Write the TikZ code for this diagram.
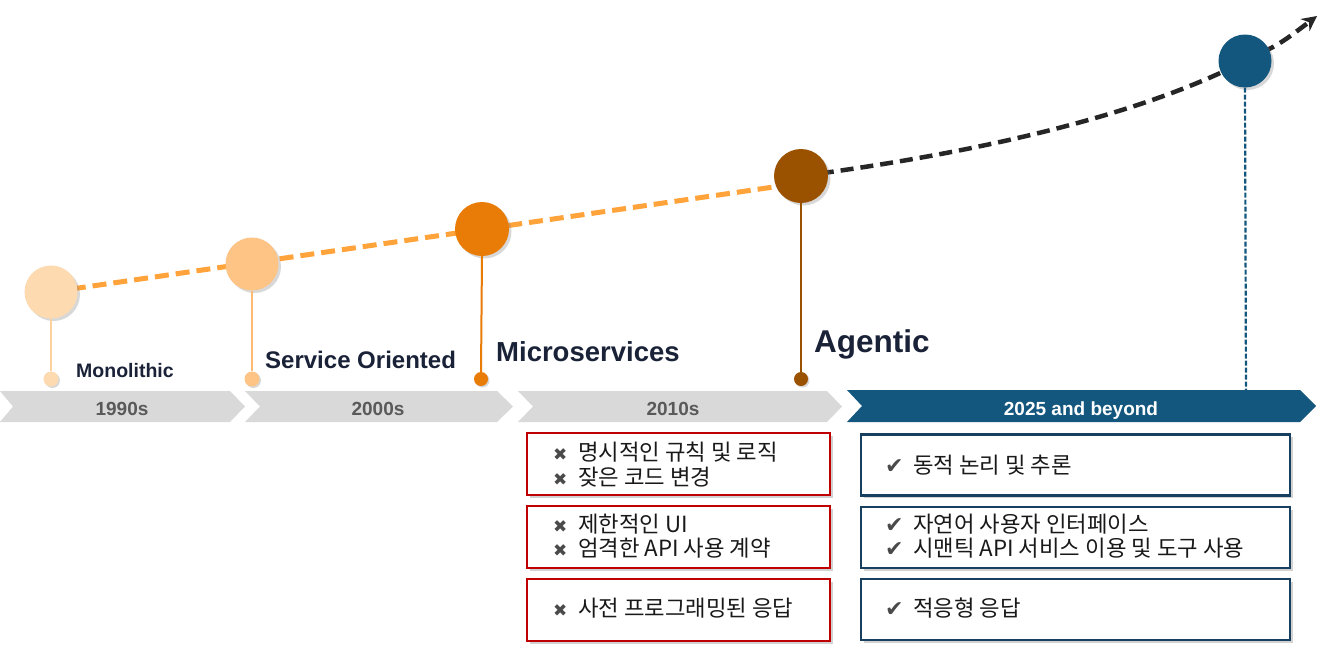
\documentclass[tikz,border=0pt]{standalone}
\usepackage{fontspec}
\setmainfont{Liberation Sans}
\newfontfamily\kr{Noto Sans CJK KR}
\newfontfamily\symf{DejaVu Sans}
\usetikzlibrary{arrows.meta,shadows}
\definecolor{cA}{HTML}{FDDAB0}
\definecolor{cB}{HTML}{FDC486}
\definecolor{cC}{HTML}{E97C06}
\definecolor{cD}{HTML}{9B5200}
\definecolor{cE}{HTML}{13577E}
\definecolor{dashor}{HTML}{FFA33A}
\definecolor{dashbk}{HTML}{262626}
\definecolor{bandgray}{HTML}{D9D9D9}
\definecolor{bandtxt}{HTML}{595959}
\definecolor{navy}{HTML}{1A2238}
\definecolor{redbox}{HTML}{C00000}
\definecolor{bluebox}{HTML}{173F5F}
\definecolor{markgray}{HTML}{4A4A4A}
\newcommand\xmk{\makebox[25pt][l]{\symf\color{markgray}\fontsize{17}{17}\selectfont ✖}}
\newcommand\ckmk{\makebox[28pt][l]{\symf\color{markgray}\fontsize{22}{22}\selectfont ✔}}
\tikzset{
  bigdot/.style={circle, inner sep=0pt, minimum size=53pt, drop shadow={shadow xshift=2.5pt, shadow yshift=-2.5pt, opacity=0.3}},
  smalldot/.style={circle, inner sep=0pt, minimum size=15pt, drop shadow={shadow xshift=1.5pt, shadow yshift=-1.5pt, opacity=0.3}},
  era/.style={font=\bfseries\fontsize{19}{19}\selectfont, anchor=base},
  lbl/.style={font=\bfseries, text=navy, anchor=base west, inner sep=0pt},
  rbox/.style={draw=redbox, line width=2.5pt, fill=white, minimum width=303pt, minimum height=62pt, inner sep=0pt, drop shadow={shadow xshift=2.5pt, shadow yshift=-2.5pt, opacity=0.35}},
  bbox/.style={draw=bluebox, line width=2.5pt, fill=white, minimum width=429pt, minimum height=61pt, inner sep=0pt, drop shadow={shadow xshift=2.5pt, shadow yshift=-2.5pt, opacity=0.35}},
  itemtxt/.style={font=\kr\fontsize{22.3}{25}\selectfont, text=black!90, anchor=base west, inner sep=0pt},
}
\begin{document}
\begin{tikzpicture}[x=1pt,y=-1pt]
\useasboundingbox (0,0) rectangle (1332,656);
\fill[white] (0,0) rectangle (1332,656);

% circle positions
\coordinate (p1) at (51,292);
\coordinate (p2) at (252,264);
\coordinate (p3) at (482,229);
\coordinate (p4) at (801,176);
\coordinate (p5) at (1245,61);
\coordinate (orend) at (801,183);
\coordinate (arrend) at (1317,16);
\coordinate (bluebot) at (1246,396);

% dashed timelines
\draw[dashor, line width=5pt, dash pattern=on 14pt off 7pt] (p1) -- (orend);
\draw[dashbk, line width=4.5pt, dash pattern=on 13pt off 7pt, -{Stealth[length=15pt,width=15pt]}]
  (p4) .. controls (1000,150) and (1150,110) .. (p5) .. controls (1280,44) .. (arrend);

% small dots
\node[smalldot, fill=cA] (d1) at (51,379) {};
\node[smalldot, fill=cB] (d2) at (252,379) {};
\node[smalldot, fill=cC, minimum size=14pt] (d3) at (481,379) {};
\node[smalldot, fill=cD, minimum size=14pt] (d4) at (801,379) {};

% big circles
\node[bigdot, fill=cA] (c1) at (p1) {};
\node[bigdot, fill=cB] (c2) at (p2) {};
\node[bigdot, fill=cC, minimum size=54pt] (c3) at (p3) {};
\node[bigdot, fill=cD, minimum size=54pt] (c4) at (p4) {};
\node[bigdot, fill=cE, minimum size=53pt] (c5) at (p5) {};

% stems
\draw[cA!90!orange, line width=1.3pt] (c1.south) -- (d1.north);
\draw[cB!85!orange, line width=1.3pt] (c2.south) -- (d2.north);
\draw[cC, line width=2pt] (c3.south) -- (d3.north);
\draw[cD, line width=2pt] (c4.south) -- (d4.north);

% band
\fill[bandgray] (0,391) -- (230,391) -- (245,406.5) -- (230,422) -- (0,422) -- (13,406.5) -- cycle;
\fill[bandgray] (245,391) -- (497,391) -- (513,406.5) -- (497,422) -- (245,422) -- (260,406.5) -- cycle;
\fill[bandgray] (518,391) -- (827,391) -- (842,406.5) -- (827,422) -- (518,422) -- (533,406.5) -- cycle;
\fill[cE] (847,390) -- (1300,390) -- (1316,406) -- (1300,422) -- (847,422) -- (862,406) -- cycle;
\node[era, text=bandtxt] (e1) at (122,415) {1990s};
\node[era, text=bandtxt] (e2) at (378,415) {2000s};
\node[era, text=bandtxt] (e3) at (673,415) {2010s};
\node[era, text=white] (e4) at (1081,415) {2025 and beyond};

\draw[cE, line width=2.2pt, dash pattern=on 5pt off 2pt] (c5.south) -- (bluebot);

% labels
\node[lbl, font=\bfseries\fontsize{19.5}{20}\selectfont] (l1) at (76,377) {Monolithic};
\node[lbl, font=\bfseries\fontsize{24}{24}\selectfont] (l2) at (265,368) {Service Oriented};
\node[lbl, font=\bfseries\fontsize{27.5}{28}\selectfont] (l3) at (496,361) {Microservices};
\node[lbl, font=\bfseries\fontsize{31.5}{32}\selectfont] (l4) at (814,352) {Agentic};

% red boxes
\node[rbox] (r1) at (678.5,464) {};
\node[rbox] (r2) at (678.5,537) {};
\node[rbox] (r3) at (678.5,610) {};
\node[itemtxt] (r1a) at (553,460) {\xmk 명시적인 규칙 및 로직};
\node[itemtxt] (r1b) at (553,485) {\xmk 잦은 코드 변경};
\node[itemtxt] (r2a) at (553,532) {\xmk 제한적인 UI};
\node[itemtxt] (r2b) at (553,556) {\xmk 엄격한 API 사용 계약};
\node[itemtxt] (r3a) at (553,616) {\xmk 사전 프로그래밍된 응답};

% blue boxes
\node[bbox] (b1) at (1075.5,465) {};
\node[bbox] (b2) at (1075.5,537.5) {};
\node[bbox] (b3) at (1075.5,609.5) {};
\node[itemtxt] (b1a) at (885,473) {\ckmk 동적 논리 및 추론};
\node[itemtxt] (b2a) at (885,532) {\ckmk 자연어 사용자 인터페이스};
\node[itemtxt] (b2b) at (885,556) {\ckmk 시맨틱 API 서비스 이용 및 도구 사용};
\node[itemtxt] (b3a) at (885,616) {\ckmk 적응형 응답};
\end{tikzpicture}
\end{document}
